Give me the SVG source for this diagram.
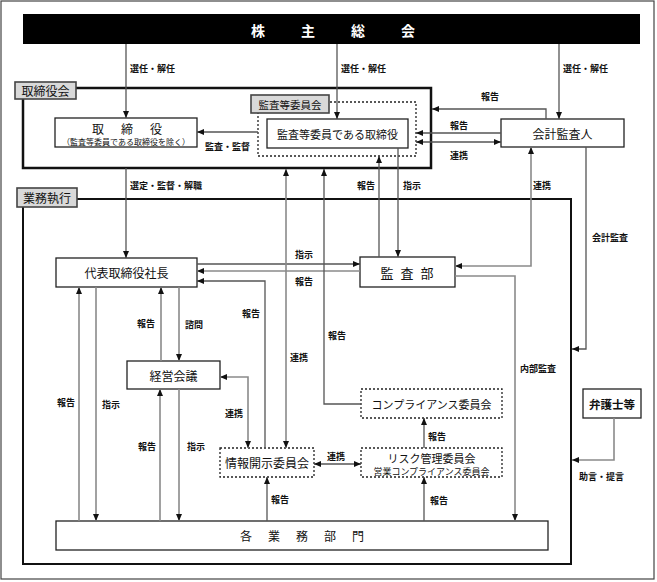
<svg xmlns="http://www.w3.org/2000/svg" width="657" height="582" viewBox="0 0 657 582">
<defs>
<marker id="ah" markerWidth="7" markerHeight="7" refX="7" refY="3.5" orient="auto-start-reverse" markerUnits="userSpaceOnUse">
<path d="M0,0.5 L7,3.5 L0,6.5 z" fill="#111"/>
</marker>
<style>
.box{fill:#fff;stroke:#222;stroke-width:1.3}
.dash{fill:#fff;stroke:#222;stroke-width:1.3;stroke-dasharray:2 2}
.frame{fill:none;stroke:#111;stroke-width:2.5}
.tag{fill:#d9d9d9;stroke:#444;stroke-width:1.6}
.t{font-family:"Noto Sans CJK JP","Liberation Sans",sans-serif;fill:#111;dominant-baseline:central}
.n{font-size:12px;text-anchor:middle}
.l{font-size:9px;font-weight:bold}
.c path{fill:none;stroke:#555;stroke-width:1.3}
.c path.g{stroke:#8a8a8a;stroke-width:1.6}
</style>
</defs>
<rect x="1" y="1" width="653" height="578" fill="#fff" stroke="#444" stroke-width="1.2"/>

<g id="shareholders">
<rect x="23" y="14" width="617" height="30" fill="#000"/>
<text class="t" x="251" y="29.5" font-size="14" font-weight="bold" fill="#fff" style="fill:#fff" letter-spacing="11">株　主　総　会</text>
</g>

<g id="board-frame">
<rect class="frame" x="23" y="88" width="408" height="80"/>
<rect class="tag" x="15" y="82" width="61" height="17"/>
<text class="t" x="45.5" y="90.5" font-size="12" text-anchor="middle">取締役会</text>
</g>

<g id="exec-frame">
<rect class="frame" x="23" y="199" width="548" height="365" style="stroke-width:2"/>
<rect class="tag" x="17" y="188" width="60" height="19"/>
<text class="t" x="47" y="197.5" font-size="12" text-anchor="middle">業務執行</text>
</g>

<g id="directors">
<rect class="box" x="55" y="118" width="142" height="29"/>
<text class="t" x="92" y="128" font-size="12" letter-spacing="2.5">取　締　役</text>
<text class="t" x="126" y="141.5" font-size="8" text-anchor="middle">（監査等委員である取締役を除く）</text>
</g>

<g id="audit-committee">
<rect class="dash" x="258" y="102" width="158" height="54"/>
<rect class="tag" x="251" y="95" width="78" height="18"/>
<text class="t" x="290" y="104" font-size="10.5" text-anchor="middle">監査等委員会</text>
</g>

<g id="audit-directors">
<rect class="box" x="267" y="119" width="141" height="29"/>
<text class="t n" x="337.5" y="133.5" style="font-size:11px">監査等委員である取締役</text>
</g>

<g id="accounting-auditor">
<rect class="box" x="501" y="119" width="123" height="28"/>
<text class="t n" x="562.5" y="133">会計監査人</text>
</g>

<g id="president">
<rect class="box" x="56" y="258" width="141" height="29"/>
<text class="t n" x="126.5" y="272.5">代表取締役社長</text>
</g>

<g id="audit-dept">
<rect class="box" x="360" y="257" width="95" height="30"/>
<text class="t" x="380.5" y="272" font-size="13" letter-spacing="7">監査部</text>
</g>

<g id="management-meeting">
<rect class="box" x="127" y="361" width="93" height="28"/>
<text class="t n" x="173.5" y="375">経営会議</text>
</g>

<g id="disclosure-committee">
<rect class="dash" x="220" y="448" width="94" height="29"/>
<text class="t n" x="267" y="462.5">情報開示委員会</text>
</g>

<g id="compliance-committee">
<rect class="dash" x="361" y="389" width="141" height="29"/>
<text class="t n" x="431.5" y="403.5" style="font-size:11px">コンプライアンス委員会</text>
</g>

<g id="risk-committee">
<rect class="dash" x="361" y="448" width="141" height="29"/>
<text class="t n" x="431.5" y="457.5" style="font-size:11px">リスク管理委員会</text>
<text class="t n" x="431.5" y="471" style="font-size:9px">営業コンプライアンス委員会</text>
</g>

<g id="lawyers">
<rect class="box" x="583" y="389" width="58" height="29"/>
<text class="t n" x="612" y="403.5" font-weight="bold" style="font-size:11.5px">弁護士等</text>
</g>

<g id="business-depts">
<rect class="box" x="56" y="521" width="492" height="29"/>
<text class="t" x="240" y="535.5" font-size="12" letter-spacing="2">各　業　務　部　門</text>
</g>

<g id="connectors" class="c">
<path d="M126,44 V118" marker-end="url(#ah)"/>
<path d="M337,44 V119" marker-end="url(#ah)"/>
<path d="M559,44 V119" marker-end="url(#ah)"/>
<path d="M258,132 H197" marker-end="url(#ah)"/>
<path d="M546,119 V109 H432" marker-end="url(#ah)"/>
<path d="M501,133 H416" marker-end="url(#ah)"/>
<path d="M416,142 H501" marker-start="url(#ah)" marker-end="url(#ah)"/>
<path d="M126,168 V258" marker-end="url(#ah)"/>
<path d="M379,257 V156" marker-end="url(#ah)"/>
<path d="M398,148 V257" marker-end="url(#ah)"/>
<path class="g" d="M455,266 H531 V147" marker-start="url(#ah)" marker-end="url(#ah)"/>
<path d="M586,147 V349 H572" marker-end="url(#ah)"/>
<path d="M197,264 H360" marker-end="url(#ah)"/>
<path class="g" d="M360,271 H197" marker-end="url(#ah)"/>
<path d="M265,448 V281 H197" marker-end="url(#ah)"/>
<path class="g" d="M286,169 V448" marker-start="url(#ah)" marker-end="url(#ah)"/>
<path d="M361,404 H324 V169" marker-end="url(#ah)"/>
<path class="g" d="M455,276 H515 V521" marker-end="url(#ah)"/>
<path class="g" d="M161,361 V287" marker-end="url(#ah)"/>
<path class="g" d="M179,287 V361" marker-end="url(#ah)"/>
<path class="g" d="M220,377 H248 V448" marker-start="url(#ah)" marker-end="url(#ah)"/>
<path class="g" d="M79,521 V287" marker-end="url(#ah)"/>
<path class="g" d="M96,287 V521" marker-end="url(#ah)"/>
<path class="g" d="M160,521 V389" marker-end="url(#ah)"/>
<path class="g" d="M179,389 V521" marker-end="url(#ah)"/>
<path d="M267,521 V477" marker-end="url(#ah)"/>
<path d="M314,464 H361" marker-start="url(#ah)" marker-end="url(#ah)"/>
<path d="M424,448 V418" marker-end="url(#ah)"/>
<path d="M424,521 V477" marker-end="url(#ah)"/>
<path class="g" d="M614,418 V460 H572" marker-end="url(#ah)"/>
</g>

<g id="labels">
<text class="t l" x="130" y="68">選任・解任</text>
<text class="t l" x="341" y="68">選任・解任</text>
<text class="t l" x="563" y="68">選任・解任</text>
<text class="t l" x="205" y="146">監査・監督</text>
<text class="t l" x="481" y="96">報告</text>
<text class="t l" x="450" y="125">報告</text>
<text class="t l" x="450" y="155">連携</text>
<text class="t l" x="130" y="185">選定・監督・解職</text>
<text class="t l" x="357" y="185">報告</text>
<text class="t l" x="403" y="185">指示</text>
<text class="t l" x="533" y="185">連携</text>
<text class="t l" x="592" y="237">会計監査</text>
<text class="t l" x="295" y="254">指示</text>
<text class="t l" x="295" y="281">報告</text>
<text class="t l" x="242" y="313">報告</text>
<text class="t l" x="137" y="323">報告</text>
<text class="t l" x="185" y="324">諮問</text>
<text class="t l" x="328" y="335">報告</text>
<text class="t l" x="290" y="357">連携</text>
<text class="t l" x="520" y="368">内部監査</text>
<text class="t l" x="57" y="402">報告</text>
<text class="t l" x="102" y="404">指示</text>
<text class="t l" x="225" y="413">連携</text>
<text class="t l" x="138" y="446">報告</text>
<text class="t l" x="187" y="446">指示</text>
<text class="t l" x="428" y="436">報告</text>
<text class="t l" x="327" y="456">連携</text>
<text class="t l" x="579" y="476">助言・提言</text>
<text class="t l" x="271" y="499">報告</text>
<text class="t l" x="430" y="500">報告</text>
</g>
</svg>
